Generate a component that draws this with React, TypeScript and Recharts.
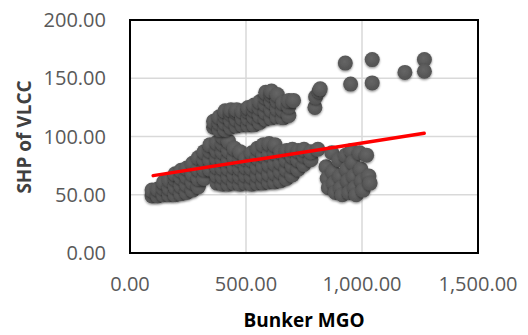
import {
  ScatterChart, Scatter, XAxis, YAxis, CartesianGrid, ReferenceArea,
} from "recharts";

// Bunker MGO vs SHP of VLCC as [x, y] pairs per cluster
const lowerLeft: [number, number][] = [
  [95, 49], [95, 54],
  [120, 49], [120, 55],
  [145, 50], [145, 56], [145, 61],
  [170, 50], [170, 56], [170, 63],
  [195, 50], [195, 57], [195, 64], [195, 68],
  [220, 51], [220, 58], [220, 65], [220, 71],
  [245, 52], [245, 59], [245, 66], [245, 73],
  [270, 54], [270, 61], [270, 68], [270, 77],
  [295, 57], [295, 64], [295, 72], [295, 82],
  [320, 64], [320, 72], [320, 80], [320, 87],
  [345, 72], [345, 80], [345, 88], [345, 93],
];

const middleBand: [number, number][] = [
  [375, 60], [375, 67], [375, 74], [375, 81], [375, 88], [375, 95],
  [400, 59], [400, 66], [400, 73], [400, 80], [400, 87], [400, 94], [400, 100],
  [425, 59], [425, 66], [425, 73], [425, 80], [425, 88], [425, 96],
  [450, 60], [450, 67], [450, 74], [450, 82], [450, 90],
  [475, 59], [475, 66], [475, 73], [475, 80], [475, 87],
  [500, 60], [500, 67], [500, 74], [500, 81],
  [525, 59], [525, 66], [525, 73], [525, 80], [525, 86],
  [550, 60], [550, 67], [550, 74], [550, 82], [550, 90],
  [575, 60], [575, 67], [575, 75], [575, 84], [575, 93],
  [600, 61], [600, 68], [600, 76], [600, 85], [600, 94],
  [625, 61], [625, 69], [625, 77], [625, 86], [625, 93],
  [650, 62], [650, 70], [650, 78], [650, 87],
  [675, 64], [675, 72], [675, 80], [675, 88],
  [700, 67], [700, 75], [700, 83], [700, 89],
  [725, 72], [725, 80], [725, 88],
  [750, 76], [750, 84], [750, 89],
  [780, 80], [780, 87],
  [810, 89],
];

const rightCluster: [number, number][] = [
  [845, 74], [850, 64], [855, 56], [870, 86], [875, 70], [880, 60], [885, 52],
  [900, 80], [905, 66], [910, 56], [915, 50], [930, 84], [935, 72], [940, 62],
  [945, 52], [955, 88], [960, 78], [965, 66], [970, 56], [975, 50], [990, 86],
  [995, 72], [1000, 62], [1005, 54], [1020, 84], [1030, 66], [1035, 60],
];

const upperCluster: [number, number][] = [
  [360, 108], [360, 113],
  [385, 106], [385, 112], [385, 117],
  [410, 106], [410, 112], [410, 118], [410, 122],
  [435, 108], [435, 114], [435, 120], [435, 123],
  [460, 109], [460, 115], [460, 121], [460, 123],
  [485, 110], [485, 116], [485, 122],
  [510, 110], [510, 116], [510, 122], [510, 125],
  [535, 110], [535, 117], [535, 123], [535, 127],
  [560, 112], [560, 118], [560, 125], [560, 130],
  [585, 115], [585, 121], [585, 128], [585, 134], [585, 138],
  [610, 116], [610, 123], [610, 130], [610, 136], [610, 139],
  [635, 117], [635, 124], [635, 131], [635, 136],
  [660, 116], [660, 123], [660, 129],
  [685, 118], [685, 126], [685, 131],
  [705, 131],
  [797, 125], [800, 134], [815, 139], [820, 141],
];

const outliers: [number, number][] = [
  [928, 163], [951, 145], [1044, 166], [1044, 146], [1185, 155], [1269, 166], [1269, 156],
];

const trendLine: [number, number][] = [[100, 66.4], [1268, 102.7]];

const xTicks = [0, 500, 1000, 1500];
const yTicks = [0, 50, 100, 150, 200];

const toPoints = (arr: [number, number][]) => arr.map(([x, y]) => ({ x, y }));
const points = toPoints([...lowerLeft, ...middleBand, ...rightCluster, ...upperCluster, ...outliers]);
const trend = toPoints(trendLine);

const fmt = (v: number) =>
  v.toLocaleString("en-US", { minimumFractionDigits: 2, maximumFractionDigits: 2 });

const FONT = "'Open Sans', sans-serif";
const tickStyle = { fill: "#595959", fontSize: 20, fontFamily: FONT };

const Ball = (props: any) => (
  <circle cx={props.cx} cy={props.cy} r={7.5} fill="url(#ballFill)" filter="url(#ballShadow)" />
);

export default function App() {
  return (
    <div style={{ position: "absolute", left: 0, top: 0, width: 528, height: 335, background: "#fff" }}>
      <ScatterChart width={528} height={335} margin={{ top: 20, right: 50, left: 0, bottom: 0 }}>
        <defs>
          <radialGradient id="ballFill" cx="45%" cy="40%" r="60%">
            <stop offset="0%" stopColor="#666" />
            <stop offset="100%" stopColor="#515151" />
          </radialGradient>
          <filter id="ballShadow" x="-50%" y="-50%" width="200%" height="200%">
            <feDropShadow dx="0" dy="1.2" stdDeviation="1.2" floodColor="#000" floodOpacity="0.45" />
          </filter>
        </defs>
        <CartesianGrid stroke="#d9d9d9" strokeWidth={1.5} />
        <XAxis
          type="number"
          dataKey="x"
          domain={[0, 1500]}
          ticks={xTicks}
          tickFormatter={fmt}
          tick={tickStyle}
          tickLine={false}
          axisLine={false}
          tickSize={0}
          tickMargin={24}
          height={82}
          interval={0}
          label={{
            content: () => (
              <text x={304} y={320} textAnchor="middle" dominantBaseline="central"
                style={{ fontFamily: FONT, fontSize: 19, fontWeight: 700, fill: "#000" }}>
                Bunker MGO
              </text>
            ),
          }}
        />
        <YAxis
          type="number"
          dataKey="y"
          domain={[0, 200]}
          ticks={yTicks}
          tickFormatter={fmt}
          tick={tickStyle}
          tickLine={false}
          axisLine={false}
          tickSize={0}
          tickMargin={24}
          width={130}
          interval={0}
          label={{
            content: () => (
              <text x={24} y={137} transform="rotate(-90 24 137)" textAnchor="middle" dominantBaseline="central"
                style={{ fontFamily: FONT, fontSize: 19, fontWeight: 700, fill: "#404040" }}>
                SHP of VLCC
              </text>
            ),
          }}
        />
        <ReferenceArea x1={0} x2={1500} y1={0} y2={200} fill="none" stroke="#000" strokeWidth={2} />
        <Scatter data={points} shape={Ball} isAnimationActive={false} />
        <Scatter
          data={trend}
          line={{ stroke: "#ff0000", strokeWidth: 3.5, strokeLinecap: "round" }}
          shape={() => <g />}
          isAnimationActive={false}
        />
      </ScatterChart>
    </div>
  );
}
